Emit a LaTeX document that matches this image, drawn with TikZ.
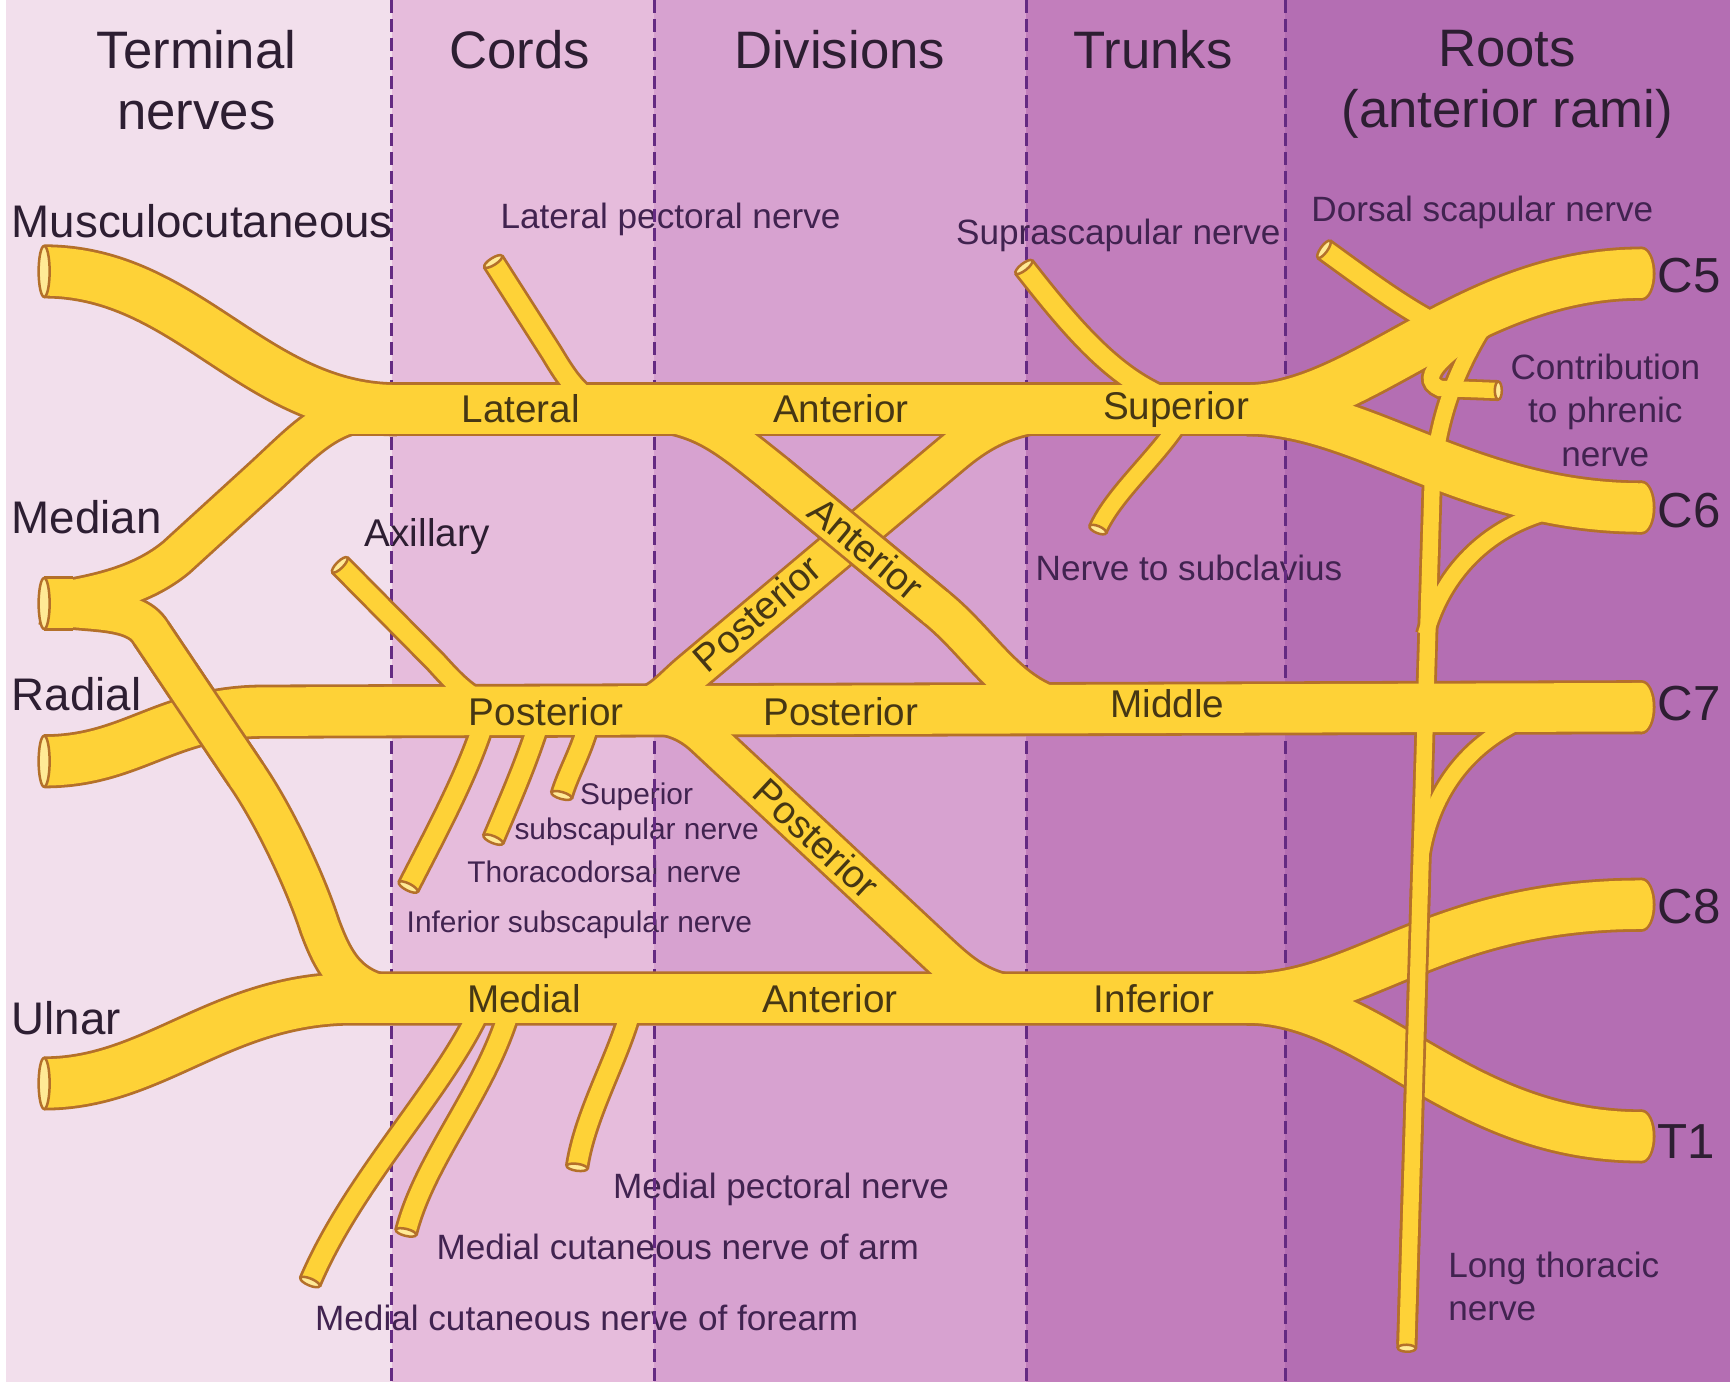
\documentclass[tikz,border=0pt]{standalone}
\usepackage{fontspec}
\setmainfont{Liberation Sans}
\usetikzlibrary{positioning}
\definecolor{termbg}{RGB}{242,223,236}
\definecolor{cordbg}{RGB}{230,188,220}
\definecolor{divbg}{RGB}{215,162,208}
\definecolor{trunkbg}{RGB}{194,126,188}
\definecolor{rootbg}{RGB}{180,110,179}
\definecolor{dashcol}{RGB}{100,42,130}
\definecolor{nerve}{RGB}{254,210,55}
\definecolor{nerveedge}{RGB}{180,112,42}
\definecolor{nervecut}{RGB}{255,234,150}
\definecolor{headtext}{RGB}{45,30,50}
\definecolor{labeltext}{RGB}{65,35,80}
\definecolor{cordtext}{RGB}{70,55,20}

\newcommand\nervegrow{0mm}
\tikzset{
  cord/.style={line width=4.85mm+\nervegrow},
  division/.style={line width=3.75mm+\nervegrow},
  twig/.style={line width=1.88mm+\nervegrow},
  thin/.style={line width=1.54mm+\nervegrow},
  edgepass/.style={color=nerveedge, /utils/exec=\def\nervegrow{0.56mm}},
  fillpass/.style={color=nerve, /utils/exec=\def\nervegrow{0mm}},
  tucked/.style={shorten <=0.4mm, shorten >=0.4mm},
  cutface/.style={fill=nervecut, draw=nerveedge, line width=0.25mm},
  bandline/.style={dashcol, line width=0.3mm, dash pattern=on 1.3mm off 0.6mm},
  head/.style={font=\fontsize{15}{17.3}\selectfont, text=headtext, align=center, anchor=north, inner sep=0pt},
  nervename/.style={font=\fontsize{13}{15}\selectfont, text=headtext, anchor=base west, inner sep=0pt},
  cordname/.style={font=\fontsize{11}{13}\selectfont, text=cordtext, inner sep=0pt},
  branchname/.style={font=\fontsize{10}{12.4}\selectfont, text=labeltext, inner sep=0pt},
  tinyname/.style={font=\fontsize{8.5}{10}\selectfont, text=labeltext, inner sep=0pt},
  rootname/.style={font=\fontsize{14}{16}\selectfont, text=headtext, anchor=west, inner sep=0pt},
}

% all nerve tubes, drawn once for the rim and once for the yellow
\newcommand\plexus{%
  % terminal nerves
  \draw[cord] (musc) .. controls (170,246) and (230,371) .. (360,371);
  \draw[cord] (median) -- (66,547);
  \draw[division] (median) .. controls (90,540) and (130,530) .. (160,505) -- (240,432)
    .. controls (280,395) and (300,371) .. (350,371);
  \draw[division] (median) .. controls (70,556) and (118,548) .. (135,571) -- (225,705)
    .. controls (250,742) and (277,800) .. (290,840) .. controls (305,880) and (320,905) .. (380,905);
  \draw[cord] (radial) .. controls (120,690) and (150,645) .. (240,645) -- (c7);
  \draw[cord] (ulnar) .. controls (140,982) and (200,905) .. (320,905) -- (1200,905);
  % cords, divisions and trunks
  \draw[cord] (300,371) -- (1200,371);
  \draw[division] (560,371) .. controls (630,371) and (650,388) .. (700,428) -- (850,552)
    .. controls (895,589) and (920,645) .. (985,645);
  \draw[division] (990,371) .. controls (930,371) and (900,380) .. (863,411) -- (625,611)
    .. controls (605,628) and (595,645) .. (560,645);
  \draw[division] (560,645) .. controls (600,645) and (620,649) .. (640,668) -- (850,864)
    .. controls (875,887) and (895,905) .. (950,905);
  % roots
  \draw[cord] (1130,371) .. controls (1235,371) and (1330,248) .. (c5);
  \draw[cord] (1130,371) .. controls (1235,371) and (1330,460) .. (c6);
  \draw[cord] (1130,905) .. controls (1235,905) and (1300,820) .. (c8);
  \draw[cord] (1130,905) .. controls (1245,905) and (1320,1030) .. (t1);
  \foreach \rt in {c5,c6,c7,c8,t1}
    \fill (\rt) ellipse ({1.1mm+0.5*\nervegrow} and {2.43mm+0.5*\nervegrow});
  % branches
  \draw[twig] (latpec) -- (500,320) .. controls (515,345) and (525,360) .. (550,371);
  \draw[twig] (axil) -- (395,600) .. controls (415,622) and (435,645) .. (475,645);
  \draw[twig] (supra) .. controls (985,315) and (1030,365) .. (1100,371);
  \draw[thin] (1075,371) .. controls (1060,405) and (1010,445) .. (subcl);
  \draw[twig] (dorsal) .. controls (1240,255) and (1280,285) .. (1315,300);
  \draw[thin] (1345,298) .. controls (1315,318) and (1282,342) .. (1305,352) -- (phren);
  \draw[thin] (1345,295) .. controls (1320,335) and (1302,380) .. (1298,440) -- (longth);
  \draw[thin] (1420,460) .. controls (1360,470) and (1310,510) .. (1292,575);
  \draw[thin] (1400,645) .. controls (1350,660) and (1300,700) .. (1288,775);
  \draw[twig] (440,650) .. controls (425,700) and (395,755) .. (infsub);
  \draw[twig] (490,650) .. controls (478,690) and (460,730) .. (thoraco);
  \draw[twig] (535,650) .. controls (528,680) and (515,700) .. (supsub);
  \draw[twig] (435,915) .. controls (400,990) and (320,1070) .. (mcfore);
  \draw[twig] (462,915) .. controls (440,990) and (385,1050) .. (mcarm);
  \draw[twig] (572,915) .. controls (560,960) and (530,1010) .. (medpec);
}
% pieces that pass over another nerve
\newcommand\overpass{%
  \draw[division] (135,571) -- (225,705);
  \draw[division] (700,428) -- (850,552);
  \draw[thin] (1287.4,800) -- (longth);
}
\newcommand\cutend[3]{\draw[cutface, rotate around={#2:(#1)}] (#1) ellipse (0.35mm and #3);}

\begin{document}
\begin{tikzpicture}[x=0.011033cm, y=-0.011033cm]
\useasboundingbox (0,0) rectangle (1568,1253);

% bands
\fill[termbg] (0,0) rectangle (355,1253);
\fill[white] (0,0) rectangle (5,1253);
\fill[cordbg] (355,0) rectangle (593,1253);
\fill[divbg] (593,0) rectangle (930,1253);
\fill[trunkbg] (930,0) rectangle (1165,1253);
\fill[rootbg] (1165,0) rectangle (1568,1253);

% free ends of the nerves
\coordinate (musc) at (40,246);
\coordinate (median) at (40,547);
\coordinate (radial) at (40,690);
\coordinate (ulnar) at (40,982);
\coordinate (c5) at (1488,248);
\coordinate (c6) at (1488,460);
\coordinate (c7) at (1488,641);
\coordinate (c8) at (1488,820);
\coordinate (t1) at (1488,1030);
\coordinate (latpec) at (447,237);
\coordinate (axil) at (308,512);
\coordinate (supra) at (928,242);
\coordinate (subcl) at (995,480);
\coordinate (dorsal) at (1200,226);
\coordinate (phren) at (1358,354);
\coordinate (longth) at (1275,1222);
\coordinate (infsub) at (370,804);
\coordinate (thoraco) at (447,761);
\coordinate (supsub) at (509,721);
\coordinate (mcfore) at (281,1162);
\coordinate (mcarm) at (368,1117);
\coordinate (medpec) at (523,1058);

% headings
\node[head] (hterm) at (178,27) {Terminal\\nerves};
\node[head] (hcord) at (471,27) {Cords};
\node[head] (hdiv) at (761,27) {Divisions};
\node[head] (htrunk) at (1045,27) {Trunks};
\node[head] (hroot) at (1366,27) {Roots\\(anterior rami)};

\node[nervename] (lmusc) at (10,215) {Musculocutaneous};
\node[nervename] (lmedian) at (10,484) {Median};
\node[nervename] (lradial) at (10,644) {Radial};
\node[nervename] (lulnar) at (10,938) {Ulnar};
\node[nervename, font=\fontsize{11}{13}\selectfont] (laxil) at (330,495) {Axillary};

\node[branchname, anchor=base west] (llatpec) at (453,207) {Lateral pectoral nerve};
\node[branchname, anchor=base west] (lsupra) at (866,222) {Suprascapular nerve};
\node[branchname, anchor=base west] (ldorsal) at (1188,201) {Dorsal scapular nerve};
\node[branchname, anchor=base west] (lsubcl) at (938,526) {Nerve to subclavius};
\node[branchname, align=center, anchor=north] (lphren) at (1455,320) {Contribution\\to phrenic\\nerve};
\node[branchname, anchor=base west] (lmedpec) at (555,1086) {Medial pectoral nerve};
\node[branchname, anchor=base west] (lmcarm) at (395,1142) {Medial cutaneous nerve of arm};
\node[branchname, anchor=base west] (lmcfore) at (285,1206) {Medial cutaneous nerve of forearm};
\node[branchname, align=left, anchor=north west] (llongth) at (1312,1134) {Long thoracic\\nerve};
\node[tinyname, align=center, anchor=north] (lsupsub) at (577,709) {Superior\\subscapular nerve};
\node[tinyname, anchor=base west] (lthoraco) at (423,800) {Thoracodorsal nerve};
\node[tinyname, anchor=base west] (linfsub) at (368,845) {Inferior subscapular nerve};

% band borders
\foreach \bx in {355,593,930,1165}
  \draw[bandline] (\bx,0) -- (\bx,1253);

% nerves
\begin{scope}[edgepass] \plexus \end{scope}
\begin{scope}[fillpass] \plexus \end{scope}
\begin{scope}[edgepass, tucked] \overpass \end{scope}
\begin{scope}[fillpass] \overpass \end{scope}

\foreach \e in {musc,median,radial,ulnar}
  \draw[cutface] (\e) ellipse (0.55mm and 2.55mm);
\cutend{latpec}{122.6}{1.05mm}
\cutend{axil}{134.7}{1.05mm}
\cutend{supra}{128}{1.05mm}
\cutend{subcl}{-113}{0.9mm}
\cutend{dorsal}{144}{1.05mm}
\cutend{phren}{0}{0.9mm}
\cutend{longth}{-91.7}{0.9mm}
\cutend{infsub}{-117}{1.05mm}
\cutend{thoraco}{-112.8}{1.05mm}
\cutend{supsub}{-106}{1.05mm}
\cutend{mcfore}{-113}{1.05mm}
\cutend{mcarm}{-104}{1.05mm}
\cutend{medpec}{-98}{1.05mm}

% names on the nerves
\node[cordname] (tlat) at (472,370) {Lateral};
\node[cordname] (tantup) at (762,370) {Anterior};
\node[cordname] (tsup) at (1066,371) {Superior};
\node[cordname] (tpost) at (495,645) {Posterior};
\node[cordname] (tpostmid) at (762,645) {Posterior};
\node[cordname] (tmid) at (1058,638) {Middle};
\node[cordname] (tmed) at (475,905) {Medial};
\node[cordname] (tantlow) at (752,905) {Anterior};
\node[cordname] (tinf) at (1046,905) {Inferior};
\node[cordname, rotate=-40] (tantx) at (785,497) {Anterior};
\node[cordname, rotate=41] (tpostx) at (686,556) {Posterior};
\node[cordname, rotate=-43] (tpostlow) at (740,760) {Posterior};

\node[rootname] (rc5) at (1502,250) {C5};
\node[rootname] (rc6) at (1502,463) {C6};
\node[rootname] (rc7) at (1502,638) {C7};
\node[rootname] (rc8) at (1502,822) {C8};
\node[rootname] (rt1) at (1502,1035) {T1};
\end{tikzpicture}
\end{document}
